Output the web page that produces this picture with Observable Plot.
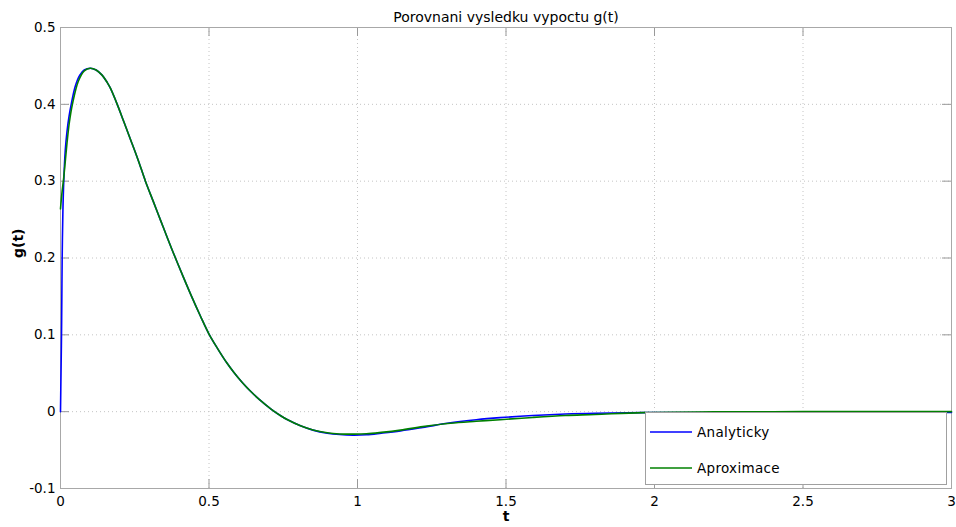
<!DOCTYPE html>
<html>
<head>
<meta charset="utf-8">
<script src="https://cdn.jsdelivr.net/npm/d3@7"></script>
<script src="https://cdn.jsdelivr.net/npm/@observablehq/plot@0.6"></script>
<style>
  body { margin: 0; background: #fff; font-family: "DejaVu Sans", sans-serif; }
  #chart { position: relative; width: 956px; height: 527px; }
  .legend { position: absolute; left: 645px; top: 412px; width: 300px; height: 71px;
            border: 1px solid #a0a0a0; background: #fff; }
  .legend .row { position: absolute; left: 4px; height: 18px; display: flex; align-items: center;
                 font-size: 13.5px; color: #000; letter-spacing: 0.3px; }
  .legend .swatch { width: 42px; height: 0; border-top: 2px solid; margin-right: 5px; opacity: 0.75; }
</style>
</head>
<body>
<div id="chart"></div>
<script>
// Impulse response g(t): analytical solution
const tAnalytic = [0, 0.0017, 0.0034, 0.0045, 0.0056, 0.008, 0.011, 0.016, 0.022, 0.029, 0.036, 0.05, 0.065, 0.08, 0.1,
  0.12, 0.14, 0.157, 0.168, 0.191, 0.213, 0.236, 0.261, 0.286, 0.312, 0.337, 0.362, 0.387, 0.413, 0.438, 0.471, 0.5,
  0.53, 0.561, 0.584, 0.612, 0.64, 0.67, 0.71, 0.74, 0.763, 0.808, 0.85, 0.898, 0.94, 0.985, 1.03, 1.08, 1.145, 1.22,
  1.313, 1.4, 1.48, 1.59, 1.7, 1.8, 1.96, 2.2, 2.5, 2.8, 3.0];
const gAnalytic = [0, 0.05, 0.1, 0.15, 0.2, 0.26, 0.3, 0.34, 0.365, 0.385, 0.4, 0.424, 0.438, 0.4447, 0.447,
  0.4447, 0.438, 0.4286, 0.421, 0.4, 0.3776, 0.354, 0.328, 0.3, 0.274, 0.249, 0.224, 0.2, 0.1757, 0.153, 0.1245, 0.101,
  0.0815, 0.063, 0.051, 0.038, 0.0265, 0.0156, 0.003, -0.005, -0.0103, -0.0184, -0.024, -0.028, -0.0298, -0.0305, -0.03,
  -0.028, -0.025, -0.0205, -0.0145, -0.0105, -0.0078, -0.005, -0.003, -0.002, -0.0013, -0.0012, -0.0011, -0.001, -0.001];

// Approximated response
const tApprox = [0, 0.005, 0.011, 0.022, 0.03, 0.04, 0.06, 0.08, 0.1,
  0.12, 0.14, 0.157, 0.168, 0.191, 0.213, 0.236, 0.261, 0.286, 0.312, 0.337, 0.362, 0.387, 0.413, 0.438, 0.471, 0.5,
  0.53, 0.561, 0.584, 0.612, 0.64, 0.67, 0.71, 0.74, 0.763, 0.808, 0.85, 0.898, 0.94, 0.985, 1.03, 1.08, 1.145, 1.22,
  1.313, 1.4, 1.48, 1.59, 1.7, 1.8, 1.96, 2.2, 2.5, 2.8, 3.0];
const gApprox = [0.264, 0.285, 0.305, 0.35, 0.377, 0.4, 0.43, 0.4435, 0.447,
  0.4447, 0.438, 0.4286, 0.421, 0.4, 0.3776, 0.354, 0.328, 0.3, 0.274, 0.249, 0.224, 0.2, 0.1757, 0.153, 0.1245, 0.101,
  0.0815, 0.063, 0.051, 0.038, 0.0265, 0.0156, 0.003, -0.005, -0.0103, -0.0184, -0.0238, -0.0275, -0.029, -0.0292, -0.0288,
  -0.027, -0.024, -0.0195, -0.015, -0.0125, -0.0105, -0.0075, -0.005, -0.0037, -0.0012, -0.0003, 0, 0, 0];

const xTicks = [0, 0.5, 1, 1.5, 2, 2.5, 3];
const yTicks = [-0.1, 0, 0.1, 0.2, 0.3, 0.4, 0.5];

const seriesNames = ["Analyticky", "Aproximace"];
const seriesColors = ["#0000ff", "#008000"];
const titleText = "Porovnani vysledku vypoctu g(t)";
const xLabel = "t";
const yLabel = "g(t)";

const analytic = tAnalytic.map((t, i) => ({t, g: gAnalytic[i]}));
const approx = tApprox.map((t, i) => ({t, g: gApprox[i]}));

const W = 956, H = 527;
const mTop = 27, mBottom = 39, mLeft = 60, mRight = 5;
const frameW = W - mLeft - mRight, frameH = H - mTop - mBottom;
const tickLen = 9;
const tickColor = "#999";

const chart = Plot.plot({
  width: W,
  height: H,
  marginTop: mTop,
  marginBottom: mBottom,
  marginLeft: mLeft,
  marginRight: mRight,
  style: {fontFamily: "DejaVu Sans, sans-serif", fontSize: "13.5px", background: "#fff", color: "#000"},
  x: {domain: [0, 3]},
  y: {domain: [-0.1, 0.5]},
  marks: [
    // dotted grid
    Plot.ruleX(xTicks, {x: d => d, stroke: "#c4c4c4", strokeDasharray: "1,3"}),
    Plot.ruleY(yTicks, {y: d => d, stroke: "#c4c4c4", strokeDasharray: "1,3"}),
    // inward tick marks on all four sides
    Plot.ruleX(xTicks, {x: d => d, insetTop: frameH - tickLen, stroke: tickColor}),
    Plot.ruleX(xTicks, {x: d => d, insetBottom: frameH - tickLen, stroke: tickColor}),
    Plot.ruleY(yTicks, {y: d => d, insetRight: frameW - tickLen, stroke: tickColor}),
    Plot.ruleY(yTicks, {y: d => d, insetLeft: frameW - tickLen, stroke: tickColor}),
    Plot.frame({stroke: "#a8a8a8"}),
    Plot.axisX(xTicks, {tickSize: 0, tickPadding: 8, tickFormat: d => String(d), label: null, fontSize: 13.5}),
    Plot.axisY(yTicks, {tickSize: 0, tickPadding: 5, tickFormat: d => String(d), label: null, fontSize: 13.5}),
    Plot.line(analytic, {x: "t", y: "g", stroke: seriesColors[0], strokeWidth: 1.6, curve: "catmull-rom"}),
    Plot.line(approx, {x: "t", y: "g", stroke: seriesColors[1], strokeWidth: 1.6, curve: "catmull-rom"}),
    Plot.text([titleText], {frameAnchor: "top", dy: -15, text: d => d, fontSize: 14}),
    Plot.text([xLabel], {frameAnchor: "bottom", dy: 32, text: d => d, fontSize: 14, fontWeight: "bold"}),
    Plot.text([yLabel], {frameAnchor: "left", dx: -42, rotate: -90, text: d => d, fontSize: 14, fontWeight: "bold"})
  ]
});

const root = document.getElementById("chart");
root.appendChild(chart);

// legend box in the lower right corner of the axes
const legend = document.createElement("div");
legend.className = "legend";
seriesNames.forEach((name, i) => {
  const row = document.createElement("div");
  row.className = "row";
  row.style.top = (10 + i * 36) + "px";
  const sw = document.createElement("span");
  sw.className = "swatch";
  sw.style.borderTopColor = seriesColors[i];
  const label = document.createElement("span");
  label.textContent = name;
  row.appendChild(sw);
  row.appendChild(label);
  legend.appendChild(row);
});
root.appendChild(legend);
</script>
</body>
</html>
